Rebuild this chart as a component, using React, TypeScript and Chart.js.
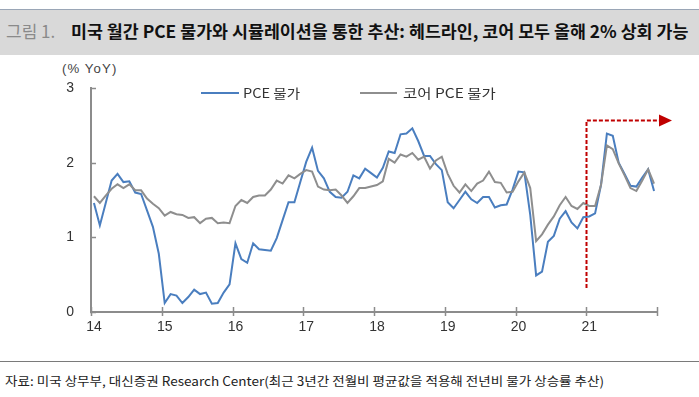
import React, { useEffect, useLayoutEffect, useRef, useState } from 'react';
import { Chart, registerables } from 'chart.js';

Chart.register(...registerables);

// ---------- data ----------
const YEARS = ['14', '15', '16', '17', '18', '19', '20', '21'];
const MONTHS = ['01', '02', '03', '04', '05', '06', '07', '08', '09', '10', '11', '12'];
const CATEGORIES = YEARS.flatMap((y) => MONTHS.map((m) => `${y}.${m}`));

const Y_TICKS = [0, 1, 2, 3];

// PCE 물가 (% YoY), Jan 2014 – Dec 2021
const PCE_VALUES = [
  1.46, 1.16, 1.46, 1.76, 1.85, 1.74, 1.75, 1.60, 1.58, 1.36, 1.14, 0.78,
  0.12, 0.24, 0.22, 0.12, 0.20, 0.30, 0.24, 0.26, 0.11, 0.12, 0.26, 0.37,
  0.92, 0.71, 0.66, 0.92, 0.84, 0.83, 0.82, 0.99, 1.23, 1.47, 1.47, 1.74,
  2.01, 2.20, 1.89, 1.79, 1.61, 1.54, 1.53, 1.61, 1.83, 1.79, 1.92, 1.86,
  1.80, 1.93, 2.15, 2.13, 2.38, 2.39, 2.46, 2.29, 2.09, 2.09, 1.98, 1.90,
  1.47, 1.39, 1.50, 1.61, 1.51, 1.46, 1.54, 1.54, 1.40, 1.43, 1.44, 1.64,
  1.88, 1.87, 1.30, 0.49, 0.54, 0.94, 1.02, 1.25, 1.35, 1.20, 1.12, 1.27,
  1.28, 1.32, 1.70, 2.39, 2.36, 2.00, 1.85, 1.69, 1.68, 1.80, 1.91, 1.62,
];

// 코어 PCE 물가 (% YoY), Jan 2014 – Dec 2021
const CORE_VALUES = [
  1.55, 1.46, 1.56, 1.65, 1.71, 1.66, 1.71, 1.63, 1.63, 1.52, 1.45, 1.39,
  1.29, 1.34, 1.31, 1.30, 1.26, 1.27, 1.19, 1.25, 1.26, 1.19, 1.20, 1.19,
  1.42, 1.50, 1.46, 1.54, 1.56, 1.56, 1.64, 1.76, 1.72, 1.83, 1.79, 1.85,
  1.90, 1.88, 1.68, 1.64, 1.63, 1.64, 1.56, 1.46, 1.55, 1.66, 1.66, 1.68,
  1.70, 1.75, 2.05, 2.00, 2.11, 2.08, 2.13, 2.04, 2.08, 1.92, 2.03, 2.08,
  1.85, 1.69, 1.60, 1.71, 1.62, 1.72, 1.76, 1.88, 1.74, 1.73, 1.60, 1.61,
  1.75, 1.87, 1.66, 0.95, 1.04, 1.17, 1.28, 1.43, 1.54, 1.42, 1.38, 1.46,
  1.42, 1.42, 1.70, 2.23, 2.18, 1.99, 1.83, 1.66, 1.62, 1.76, 1.91, 1.72,
];

const SERIES_NAMES = ['PCE 물가', '코어 PCE 물가'];

// forecast arrow annotation (start category index, y range in % YoY)
const ARROW_START_INDEX = 84; // Jan 2021
const ARROW_Y_BOTTOM = 0.32;
const ARROW_Y_TOP = 2.57;

const TITLE_PREFIX = '그림 1.';
const TITLE_TEXT = '미국 월간 PCE 물가와 시뮬레이션을 통한 추산: 헤드라인, 코어 모두 올해 2% 상회 가능';
const UNIT_TEXT = '(% YoY)';
const SOURCE_TEXT =
  '자료: 미국 상무부, 대신증권 Research Center(최근 3년간 전월비 평균값을 적용해 전년비 물가 상승률 추산)';

// ---------- styles ----------
const BLUE = '#4a7ebf';
const GREY = '#8e8e8e';
const AXIS = '#8c8c8c';
const RED = '#c00000';
const KFONT = '"Noto Sans CJK KR", "Noto Sans", sans-serif';
const LFONT = '"Liberation Sans", Arial, sans-serif';

function FitText({ text, width, style }: { text: string; width: number; style: React.CSSProperties }) {
  const ref = useRef<HTMLSpanElement>(null);
  const [scale, setScale] = useState(1);
  useLayoutEffect(() => {
    const measure = () => {
      const el = ref.current;
      if (!el) return;
      const w = el.offsetWidth;
      if (w > 0) setScale(width / w);
    };
    measure();
    if ((document as any).fonts && (document as any).fonts.ready) {
      (document as any).fonts.ready.then(measure);
    }
  }, [text, width]);
  return (
    <span
      ref={ref}
      style={{
        ...style,
        display: 'inline-block',
        whiteSpace: 'nowrap',
        transform: `scaleX(${scale})`,
        transformOrigin: 'left center',
      }}
    >
      {text}
    </span>
  );
}

const marksPlugin = {
  id: 'axisMarks',
  afterDatasetsDraw(chart: any) {
    const { ctx, chartArea, scales } = chart;
    const x = scales.x;
    const y = scales.y;
    const step = x.getPixelForValue(1) - x.getPixelForValue(0);
    const boundary = (i: number) => x.getPixelForValue(i) - step / 2;
    ctx.save();
    // tick marks
    ctx.strokeStyle = AXIS;
    ctx.lineWidth = 1.5;
    ctx.beginPath();
    for (let i = 0; i <= CATEGORIES.length; i += 12) {
      const px = Math.round(boundary(i)) + 0.5;
      ctx.moveTo(px, chartArea.bottom - 5);
      ctx.lineTo(px, chartArea.bottom + 4);
    }
    for (const v of Y_TICKS) {
      const py = Math.round(y.getPixelForValue(v)) + 0.5;
      ctx.moveTo(chartArea.left - 1, py);
      ctx.lineTo(chartArea.left + 5, py);
    }
    ctx.stroke();

    // forecast arrow
    const ax = Math.round(boundary(ARROW_START_INDEX)) + 0.5;
    const yb = y.getPixelForValue(ARROW_Y_BOTTOM);
    const yt = Math.round(y.getPixelForValue(ARROW_Y_TOP)) + 0.5;
    const xEnd = chartArea.right + 3;
    ctx.strokeStyle = RED;
    ctx.lineWidth = 2;
    ctx.setLineDash([4, 2]);
    ctx.beginPath();
    ctx.moveTo(ax, yb);
    ctx.lineTo(ax, yt);
    ctx.lineTo(xEnd, yt);
    ctx.stroke();
    ctx.setLineDash([]);
    ctx.fillStyle = RED;
    ctx.beginPath();
    ctx.moveTo(xEnd - 1, yt - 6);
    ctx.lineTo(xEnd + 12, yt);
    ctx.lineTo(xEnd - 1, yt + 6);
    ctx.closePath();
    ctx.fill();
    ctx.restore();
  },
};

export default function App() {
  const canvasRef = useRef<HTMLCanvasElement>(null);

  useEffect(() => {
    const canvas = canvasRef.current;
    if (!canvas) return;
    const chart = new Chart(canvas, {
      type: 'line',
      data: {
        labels: CATEGORIES,
        datasets: [
          {
            label: SERIES_NAMES[0],
            data: PCE_VALUES,
            borderColor: BLUE,
            backgroundColor: BLUE,
            borderWidth: 2,
            pointRadius: 0,
            tension: 0,
            order: 1,
          },
          {
            label: SERIES_NAMES[1],
            data: CORE_VALUES,
            borderColor: GREY,
            backgroundColor: GREY,
            borderWidth: 2,
            pointRadius: 0,
            tension: 0,
            order: 0,
          },
        ],
      },
      options: {
        responsive: false,
        maintainAspectRatio: false,
        animation: false,
        layout: { padding: { left: 0, right: 42, top: 0, bottom: 0 } },
        plugins: {
          legend: { display: false },
          tooltip: { enabled: false },
        },
        scales: {
          x: {
            type: 'category',
            offset: true,
            grid: { display: false, drawTicks: false },
            border: { display: true, color: AXIS, width: 2 },
            ticks: {
              autoSkip: false,
              maxRotation: 0,
              padding: 7,
              color: '#333',
              font: { family: LFONT, size: 14 },
              callback: (_v: any, i: number) => (i % 12 === 0 ? CATEGORIES[i].split('.')[0] : ''),
            },
            afterFit: (s: any) => {
              s.height = 38;
            },
          },
          y: {
            min: 0,
            max: 3,
            grid: { display: false, drawTicks: false },
            border: { display: true, color: AXIS, width: 2 },
            ticks: {
              stepSize: 1,
              padding: 17,
              color: '#333',
              font: { family: LFONT, size: 14, lineHeight: 1 },
            },
            afterFit: (s: any) => {
              s.width = 91;
            },
          },
        },
      },
      plugins: [marksPlugin],
    } as any);
    return () => chart.destroy();
  }, []);

  return (
    <div
      style={{
        position: 'absolute',
        left: 0,
        top: 0,
        width: 699,
        height: 397,
        background: '#fff',
        overflow: 'hidden',
        fontFamily: KFONT,
      }}
    >
      {/* title band */}
      <div
        style={{
          position: 'absolute',
          left: 0,
          top: 9,
          width: 699,
          height: 46,
          background: '#d9d9d9',
          borderTop: '1px solid #9aa6b6',
          boxSizing: 'border-box',
        }}
      />
      <div style={{ position: 'absolute', left: 6, top: 21, lineHeight: '20px', fontSize: 17 }}>
        <FitText text={TITLE_PREFIX} width={49} style={{ color: '#8a8a8a', fontWeight: 400, fontFamily: KFONT }} />
      </div>
      <div style={{ position: 'absolute', left: 71, top: 21, lineHeight: '20px', fontSize: 17 }}>
        <FitText text={TITLE_TEXT} width={617} style={{ color: '#111', fontWeight: 700, fontFamily: KFONT }} />
      </div>

      {/* unit */}
      <div style={{ position: 'absolute', left: 62, top: 60, lineHeight: '16px', fontSize: 12 }}>
        <FitText text={UNIT_TEXT} width={55} style={{ color: '#444', fontFamily: LFONT, letterSpacing: 1 }} />
      </div>

      <canvas
        ref={canvasRef}
        width={699}
        height={286}
        style={{ position: 'absolute', left: 0, top: 64, width: 699, height: 286, display: 'block' }}
      />

      {/* legend */}
      <div style={{ position: 'absolute', left: 201, top: 92, width: 38, height: 2, background: BLUE }} />
      <div style={{ position: 'absolute', left: 243, top: 84, lineHeight: '18px', fontSize: 13 }}>
        <FitText text={SERIES_NAMES[0]} width={57} style={{ color: '#333', fontFamily: KFONT }} />
      </div>
      <div style={{ position: 'absolute', left: 360, top: 92, width: 37, height: 2, background: GREY }} />
      <div style={{ position: 'absolute', left: 403, top: 84, lineHeight: '18px', fontSize: 13 }}>
        <FitText text={SERIES_NAMES[1]} width={93} style={{ color: '#333', fontFamily: KFONT }} />
      </div>

      {/* source */}
      <div style={{ position: 'absolute', left: 0, top: 361, width: 699, height: 1, background: '#7a7a7a' }} />
      <div style={{ position: 'absolute', left: 5, top: 373, lineHeight: '16px', fontSize: 12.5 }}>
        <FitText text={SOURCE_TEXT} width={599} style={{ color: '#222', fontFamily: KFONT }} />
      </div>
    </div>
  );
}
